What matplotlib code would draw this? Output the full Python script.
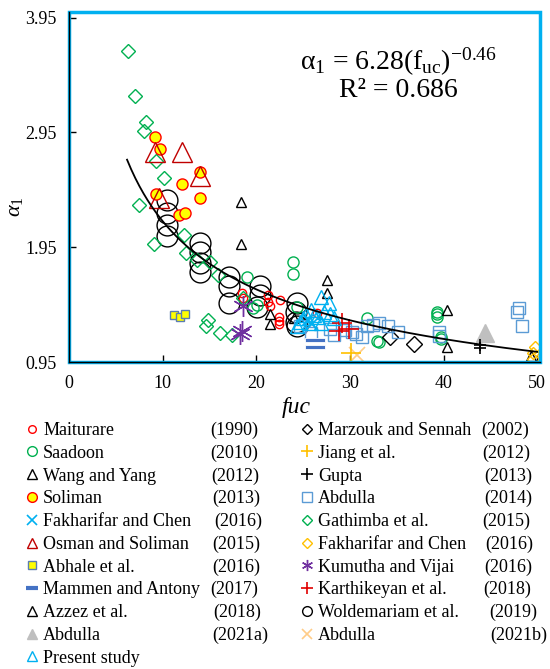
import matplotlib.pyplot as plt
from matplotlib.lines import Line2D
from matplotlib.patches import Rectangle
import numpy as np

plt.rcParams['font.family'] = ['Liberation Serif', 'DejaVu Serif']
plt.rcParams['mathtext.fontset'] = 'custom'
plt.rcParams['mathtext.rm'] = 'Liberation Serif'
plt.rcParams['mathtext.it'] = 'Liberation Serif:italic'

# ---- data (fuc, alpha_1) ----
maiturare_x = [18.5, 18.6, 21.2, 21.3, 21.5, 22.5, 22.4, 22.4, 22.4, 26.5]
maiturare_y = [1.55, 1.51, 1.53, 1.47, 1.44, 1.49, 1.34, 1.31, 1.28, 1.38]
saadoon_x = [23.9, 23.9, 19.0, 19.7, 20.1, 24.3, 31.8, 32.9, 33.1, 39.3, 39.3, 39.3, 39.7, 39.7]
saadoon_y = [1.82, 1.72, 1.69, 1.42, 1.45, 1.43, 1.33, 1.13, 1.12, 1.39, 1.37, 1.345, 1.17, 1.15]
wang_x = [18.4, 18.4, 21.5, 21.5, 27.6, 27.6]
wang_y = [2.34, 1.98, 1.37, 1.28, 1.665, 1.55]
soliman_x = [9.2, 9.7, 12.1, 14.0, 14.0, 9.3, 11.8, 12.4]
soliman_y = [2.91, 2.81, 2.50, 2.61, 2.38, 2.41, 2.23, 2.25]
fakh_x_x = [25.5, 26.0]
fakh_x_y = [1.32, 1.28]
osman_x = [9.2, 12.1, 14.0, 9.6]
osman_y = [2.78, 2.78, 2.57, 2.38]
abhale_x = [11.2, 11.9, 12.4]
abhale_y = [1.36, 1.345, 1.37]
mammen_x = [26.3, 26.3]
mammen_y = [1.14, 1.085]
azzez_x = [40.4, 40.4, 49.3, 24.0]
azzez_y = [1.40, 1.08, 1.00, 1.33]
abdulla21a_x = [44.45]
abdulla21a_y = [1.20]
present_x = [26.9, 27.75, 25.8, 26.15, 25.3, 27.2, 24.7, 26.5, 28.3, 25.6, 24.4, 26.9, 27.9, 25.0]
present_y = [1.52, 1.46, 1.40, 1.36, 1.36, 1.39, 1.30, 1.345, 1.33, 1.29, 1.26, 1.29, 1.37, 1.33]
marzouk_x = [36.8, 34.3]
marzouk_y = [1.11, 1.165]
jiang_x = [30.1]
jiang_y = [1.025]
gupta_x = [43.85, 43.85]
gupta_y = [1.095, 1.075]
abdulla14_x = [48.1, 47.8, 48.4, 39.5, 39.5, 33.1, 35.1, 34.1, 31.8, 31.3, 30.2, 28.3, 27.9,
               24.7, 25.8, 29.5, 30.6, 32.5]
abdulla14_y = [1.42, 1.39, 1.26, 1.21, 1.18, 1.29, 1.21, 1.26, 1.26, 1.17, 1.21, 1.185, 1.24,
               1.26, 1.20, 1.23, 1.19, 1.27]
gathimba_x = [6.25, 7.1, 8.2, 8.0, 9.3, 10.1, 7.5, 9.1, 12.3, 12.5, 13.7, 15.1, 15.9, 14.8,
              14.6, 16.1, 17.4, 18.6]
gathimba_y = [3.66, 3.27, 3.045, 2.96, 2.70, 2.55, 2.32, 1.98, 2.06, 1.90, 1.84, 1.82, 1.71,
              1.32, 1.26, 1.20, 1.185, 1.505]
fakh_d_x = [49.8, 49.6, 49.6]
fakh_d_y = [1.08, 1.03, 0.98]
kumutha_x = [18.6, 18.5, 18.3]
kumutha_y = [1.44, 1.22, 1.19]
karthi_x = [29.2, 29.9, 28.8]
karthi_y = [1.29, 1.24, 1.22]
wolde_x = [10.5, 10.5, 10.5, 10.5, 14.0, 14.0, 14.0, 14.0, 17.1, 17.1, 17.1, 20.4, 20.4, 20.1,
           24.3, 24.2, 24.2, 24.3]
wolde_y = [2.36, 2.25, 2.14, 2.05, 1.99, 1.91, 1.81, 1.73, 1.69, 1.61, 1.46, 1.61, 1.53, 1.43,
           1.46, 1.39, 1.30, 1.26]
abdulla21b_x = [30.8]
abdulla21b_y = [1.01]

# power fit shown on chart
fit_a, fit_b = 6.28, -0.46
fit_range = (6.2, 50)

BLUE_LIGHT = '#00B0F0'
bar = [(-1, -0.17), (1, -0.17), (1, 0.17), (-1, 0.17), (-1, -0.17)]

# name, year, x, y, marker style on chart, marker style in legend
left_col = [
    ('Maiturare', '(1990)', maiturare_x, maiturare_y,
     dict(marker='o', ms=6, mfc='none', mec='#FF0000', mew=1.0), dict(ms=5.5)),
    ('Saadoon', '(2010)', saadoon_x, saadoon_y,
     dict(marker='o', ms=8, mfc='none', mec='#00B050', mew=1.0), dict(ms=7)),
    ('Wang and Yang', '(2012)', wang_x, wang_y,
     dict(marker='^', ms=7.5, mfc='none', mec='black', mew=1.0), dict(ms=6.5)),
    ('Soliman', '(2013)', soliman_x, soliman_y,
     dict(marker='o', ms=8, mfc='#FFFF00', mec='#FF0000', mew=1.0), dict(ms=7)),
    ('Fakharifar and Chen', '(2016)', fakh_x_x, fakh_x_y,
     dict(marker='x', ms=8, mfc='none', mec=BLUE_LIGHT, mew=1.2), dict(ms=6.5)),
    ('Osman and Soliman', '(2015)', osman_x, osman_y,
     dict(marker='^', ms=14, mfc='none', mec='#C00000', mew=1.0), dict(ms=6.5)),
    ('Abhale et al.', '(2016)', abhale_x, abhale_y,
     dict(marker='s', ms=6, mfc='#FFFF00', mec='#5B7DB1', mew=1.0), dict(ms=6)),
    ('Mammen and Antony', '(2017)', mammen_x, mammen_y,
     dict(marker=bar, ms=15, mfc='#4472C4', mec='white', mew=0.6),
     dict(marker='_', ms=9, mec='#4472C4', mew=3)),
    ('Azzez et al.', '(2018)', azzez_x, azzez_y,
     dict(marker='^', ms=7.5, mfc='none', mec='black', mew=1.0), dict(ms=6.5)),
    ('Abdulla', '(2021a)', abdulla21a_x, abdulla21a_y,
     dict(marker='^', ms=13, mfc='#BFBFBF', mec='#BFBFBF', mew=1.0), dict(ms=6.5)),
    ('Present study', '', present_x, present_y,
     dict(marker='^', ms=10, mfc='none', mec=BLUE_LIGHT, mew=1.0), dict(ms=6.5)),
]
right_col = [
    ('Marzouk and Sennah', '(2002)', marzouk_x, marzouk_y,
     dict(marker='D', ms=8, mfc='none', mec='black', mew=1.0), dict(ms=5)),
    ('Jiang et al.', '(2012)', jiang_x, jiang_y,
     dict(marker='+', ms=14, mec='#FFC000', mew=1.2), dict(ms=8)),
    ('Gupta', '(2013)', gupta_x, gupta_y,
     dict(marker='+', ms=9, mec='black', mew=1.2), dict(ms=8)),
    ('Abdulla', '(2014)', abdulla14_x, abdulla14_y,
     dict(marker='s', ms=8, mfc='none', mec='#5B9BD5', mew=1.0), dict(ms=7)),
    ('Gathimba et al.', '(2015)', gathimba_x, gathimba_y,
     dict(marker='D', ms=7, mfc='none', mec='#00B050', mew=1.0), dict(ms=5)),
    ('Fakharifar and Chen', '(2016)', fakh_d_x, fakh_d_y,
     dict(marker='D', ms=6, mfc='none', mec='#FFC000', mew=1.0), dict(ms=5)),
    ('Kumutha and Vijai', '(2016)', kumutha_x, kumutha_y,
     dict(marker=(6, 2, 0), ms=15, mec='#7030A0', mew=1.0), dict(ms=8)),
    ('Karthikeyan et al.', '(2018)', karthi_x, karthi_y,
     dict(marker='+', ms=14, mec='#E00000', mew=1.2), dict(ms=8)),
    ('Woldemariam et al.', '(2019)', wolde_x, wolde_y,
     dict(marker='o', ms=15, mfc='none', mec='black', mew=1.0), dict(ms=7)),
    ('Abdulla', '(2021b)', abdulla21b_x, abdulla21b_y,
     dict(marker='x', ms=11, mec='#FFCC88', mew=1.2), dict(ms=7)),
]

fig = plt.figure(figsize=(5.5, 6.69), dpi=100)
ax = fig.add_axes([69 / 550, 1 - 362 / 669, 471 / 550, 350 / 669])

# plotting order: big circles underneath, present study on top
draw_order = ['Woldemariam et al.', 'Saadoon', 'Maiturare', 'Gathimba et al.', 'Soliman',
              'Osman and Soliman', 'Wang and Yang', 'Azzez et al.', 'Abhale et al.',
              'Kumutha and Vijai', 'Marzouk and Sennah', 'Abdulla', 'Fakharifar and Chen',
              'Mammen and Antony', 'Karthikeyan et al.', 'Jiang et al.', 'Gupta',
              'Present study']
entries = left_col + right_col
for name in draw_order:
    for e in entries:
        if e[0] == name:
            ax.plot(e[2], e[3], ls='none', zorder=2, **e[4])

xf = np.linspace(fit_range[0], fit_range[1], 200)
ax.plot(xf, fit_a * xf ** fit_b, color='black', lw=1.3, zorder=3)

ax.set_xlim(0, 50.3)
ax.set_ylim(0.95, 4.0)
ax.set_xticks([0, 10, 20, 30, 40, 50])
ax.set_yticks([0.95, 1.95, 2.95, 3.95])
ax.set_yticklabels(['0.95', '1.95', '2.95', '3.95'])
ax.tick_params(direction='in', length=5, width=1, labelsize=13, pad=9)
for s in ['top', 'right']:
    ax.spines[s].set_visible(False)
for s in ['left', 'bottom']:
    ax.spines[s].set_color('black')
    ax.spines[s].set_linewidth(1)
    ax.spines[s].set_zorder(5)
ax.add_patch(Rectangle((0, 0), 1, 1, transform=ax.transAxes, fill=False,
                       ec=BLUE_LIGHT, lw=2.5, clip_on=False, zorder=4))

ax.set_xlabel('fuc', fontsize=17, style='italic')
ax.xaxis.label.set_va('center')
ax.xaxis.set_label_coords(0.482, -0.131)
ax.set_ylabel(r'$\mathit{\alpha}_\mathit{1}$', fontsize=16)
ax.yaxis.label.set_va('center')
ax.yaxis.set_label_coords(-0.114, 0.443)

ax.text(0.699, 0.857, 'α$_1$ = 6.28(f$_{\\mathrm{uc}}$)$^{\\mathrm{-0.46}}$', transform=ax.transAxes,
        ha='center', va='center', fontsize=20)
ax.text(0.699, 0.775, 'R² = 0.686', transform=ax.transAxes,
        ha='center', va='center', fontsize=20)

legend_font = {'family': 'Liberation Serif', 'size': 13}


def make_legend(col, x_px):
    # fig.legend keeps every legend it makes, so both columns are drawn once each
    handles = []
    for name, year, xs, ys, st, lst in col:
        hs = dict(st)
        hs.update(lst)
        handles.append(Line2D([], [], ls='none', **hs))
    leg = fig.legend(handles, [c[0] for c in col], loc='upper left',
                     bbox_to_anchor=(x_px / 550, 1 - 422 / 669), frameon=False,
                     prop=legend_font, handlelength=0.7, handletextpad=0.25,
                     labelspacing=0.32, borderpad=0, borderaxespad=0)
    return leg


leg_left = make_legend(left_col, 26)
leg_right = make_legend(right_col, 301)

left_year_right = [258, 258, 259, 260, 262, 260, 260, 258, 261, 268, 258]
right_year_right = [529, 530, 532, 532, 530, 533, 532, 531, 537, 547]

fig.canvas.draw()
renderer = fig.canvas.get_renderer()
for leg, col, xr in [(leg_left, left_col, left_year_right), (leg_right, right_col, right_year_right)]:
    for t, c, xp in zip(leg.get_texts(), col, xr):
        if not c[1]:
            continue
        bb = t.get_window_extent(renderer)
        fig.text(xp / 550, bb.y0 / fig.bbox.height, c[1], ha='right', va='bottom',
                 fontdict=legend_font)

fig.savefig('out.png', dpi=100)
